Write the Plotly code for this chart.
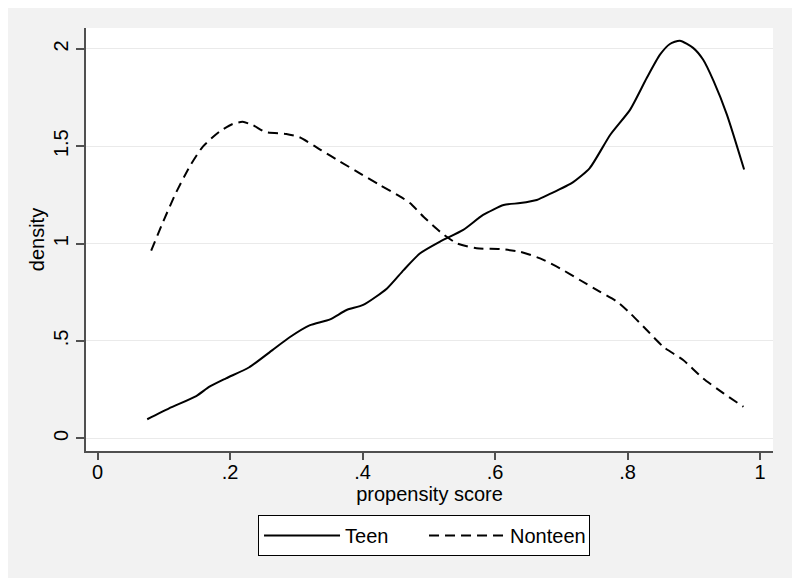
import plotly.graph_objects as go

teen_x = [0.075, 0.108, 0.149, 0.169, 0.194, 0.229, 0.264, 0.290, 0.320, 0.351, 0.376, 0.401,
          0.437, 0.462, 0.487, 0.517, 0.552, 0.582, 0.613, 0.638, 0.663, 0.683, 0.718, 0.743,
          0.774, 0.804, 0.829, 0.849, 0.864, 0.879, 0.899, 0.914, 0.930, 0.950, 0.976]
teen_y = [0.098, 0.154, 0.217, 0.265, 0.308, 0.365, 0.453, 0.519, 0.580, 0.611, 0.659, 0.685,
          0.770, 0.864, 0.950, 1.010, 1.070, 1.147, 1.198, 1.208, 1.224, 1.255, 1.316, 1.388,
          1.559, 1.688, 1.850, 1.970, 2.025, 2.042, 2.005, 1.945, 1.834, 1.662, 1.380]

nonteen_x = [0.081, 0.098, 0.118, 0.139, 0.159, 0.184, 0.204, 0.219, 0.234, 0.254, 0.285, 0.305,
             0.338, 0.366, 0.396, 0.426, 0.457, 0.472, 0.492, 0.517, 0.542, 0.572, 0.608, 0.638,
             0.668, 0.698, 0.728, 0.758, 0.784, 0.804, 0.829, 0.854, 0.884, 0.914, 0.945, 0.975]
nonteen_y = [0.964, 1.104, 1.258, 1.395, 1.498, 1.575, 1.614, 1.625, 1.609, 1.572, 1.563, 1.546,
             1.479, 1.421, 1.361, 1.301, 1.241, 1.207, 1.138, 1.061, 1.002, 0.976, 0.972, 0.958,
             0.924, 0.873, 0.813, 0.753, 0.702, 0.642, 0.556, 0.470, 0.402, 0.308, 0.231, 0.162]

x_ticks = [0, 0.2, 0.4, 0.6, 0.8, 1]
x_labels = ["0", ".2", ".4", ".6", ".8", "1"]
y_ticks = [0, 0.5, 1, 1.5, 2]
y_labels = ["0", ".5", "1", "1.5", "2"]

FONT = "Liberation Sans, Arial, sans-serif"
AX = "#505050"
FS = 20

fig = go.Figure()
fig.add_trace(go.Scatter(x=teen_x, y=teen_y, mode="lines", name="Teen",
                         line=dict(color="black", width=2, shape="spline", smoothing=0.6)))
fig.add_trace(go.Scatter(x=nonteen_x, y=nonteen_y, mode="lines", name="Nonteen",
                         line=dict(color="black", width=2, dash="10px,6px", shape="spline", smoothing=0.6)))

fig.update_layout(
    width=784, height=570,
    margin=dict(l=78, r=19, t=20, b=127),
    paper_bgcolor="#F2F2F2", plot_bgcolor="white",
    font=dict(family=FONT, size=FS, color="black"),
    showlegend=True,
    legend=dict(orientation="h", x=0.2504, y=-0.1513, xanchor="left", yanchor="top",
                bgcolor="white", bordercolor="black", borderwidth=1,
                font=dict(size=FS), itemwidth=76, entrywidth=74, entrywidthmode="pixels"),
    xaxis=dict(range=[-0.0174, 1.0196], tickvals=x_ticks, ticktext=x_labels,
               showgrid=False, zeroline=False, showline=True, linecolor=AX, linewidth=1.5,
               ticks="outside", ticklen=7, tickcolor=AX, tickwidth=1.5, ticklabelstandoff=-5,
               title=dict(text="propensity score", standoff=4, font=dict(size=FS))),
    yaxis=dict(range=[-0.065, 2.107], tickvals=y_ticks, ticktext=y_labels, tickangle=-90,
               showgrid=True, gridcolor="#EAEAEA", gridwidth=1, zeroline=False,
               showline=True, linecolor=AX, linewidth=1.5,
               ticks="outside", ticklen=8, tickcolor=AX, tickwidth=1.5,
               title=dict(text="density", standoff=0, font=dict(size=FS))),
)

fig.write_html("out.html")
